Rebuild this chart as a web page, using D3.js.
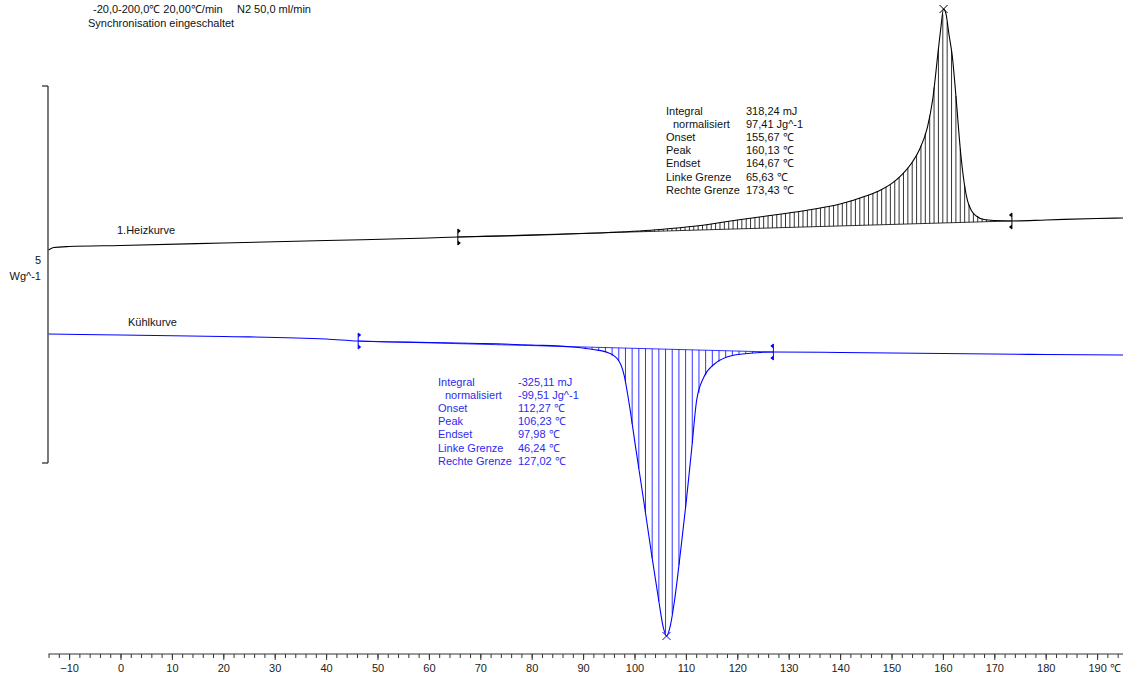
<!DOCTYPE html>
<html>
<head>
<meta charset="utf-8">
<script src="https://cdn.jsdelivr.net/npm/d3@7"></script>
<style>
  html, body { margin: 0; padding: 0; background: #fff; }
  svg { display: block; font-family: "Liberation Sans", Arial, sans-serif; }
</style>
</head>
<body>
<svg id="chart" width="1123" height="676"></svg>
<script>
// Heat flow (W/g, offset for display) versus temperature (°C)
const heatT = [-14, -13, -10, 0, 20, 40, 60, 65.63, 75, 85, 95, 105, 112, 120, 125, 130, 135, 140, 145, 148, 150, 152, 154, 155.5, 157, 158, 159, 159.6, 160.13, 160.6, 161.2, 161.8, 162.6, 163.4, 164.2, 164.8, 165.6, 166.5, 168, 170, 173.43, 180, 190, 195.3];
const heatW = [2.825, 2.858, 2.871, 2.885, 2.918, 2.951, 2.984, 2.997, 3.011, 3.031, 3.057, 3.097, 3.143, 3.223, 3.269, 3.316, 3.369, 3.435, 3.541, 3.625, 3.705, 3.820, 3.985, 4.165, 4.456, 4.814, 5.411, 5.769, 6.021, 5.955, 5.676, 5.411, 4.814, 4.151, 3.687, 3.475, 3.342, 3.276, 3.229, 3.216, 3.210, 3.223, 3.243, 3.249];

const coolT = [-14, 0, 20, 40, 46.24, 60, 70, 80, 88, 92, 95, 97, 98, 98.85, 100.3, 101.77, 103.3, 104.7, 105.6, 106.23, 106.9, 107.8, 109, 110.1, 111.1, 112.1, 113.5, 115.5, 118, 121, 127.02, 140, 160, 180, 195.3];
const coolW = [1.711, 1.698, 1.678, 1.645, 1.618, 1.598, 1.585, 1.565, 1.538, 1.505, 1.459, 1.350, 1.160, 0.836, 0.170, -0.491, -1.200, -1.817, -2.180, -2.294, -2.180, -1.817, -1.150, -0.491, 0.170, 0.836, 1.140, 1.310, 1.406, 1.446, 1.472, 1.466, 1.452, 1.439, 1.432];

// Integration limits and peak temperatures
const heatLimits = [65.63, 173.43];
const heatPeak = 160.13;
const coolLimits = [46.24, 127.02];
const coolPeak = 106.23;

// Evaluation tables
const heatLabels = ["Integral", "  normalisiert", "Onset", "Peak", "Endset", "Linke Grenze", "Rechte Grenze"];
const heatValues = ["318,24 mJ", "97,41 Jg^-1", "155,67 ℃", "160,13 ℃", "164,67 ℃", "65,63 ℃", "173,43 ℃"];
const coolLabels = ["Integral", "  normalisiert", "Onset", "Peak", "Endset", "Linke Grenze", "Rechte Grenze"];
const coolValues = ["-325,11 mJ", "-99,51 Jg^-1", "112,27 ℃", "106,23 ℃", "97,98 ℃", "46,24 ℃", "127,02 ℃"];

// Axis ticks
const majorTicks = d3.range(-10, 191, 10);
const minorTicks = d3.range(-14, 196, 2);
const headerLines = ["-20,0-200,0℃ 20,00℃/min", "Synchronisation eingeschaltet"];
const scaleBar = [0, 5];

const svg = d3.select("#chart");
const x = d3.scaleLinear().domain([0, 190]).range([120.5, 1097.1]);
const y = d3.scaleLinear().domain([0, 5]).range([463, 86]);
const xMin = -14, xMax = 195.3;

const BLUE = "#0000ff";
const BLUE_TEXT = "#2b2bf0";

// Header text
svg.append("text").attr("x", 93).attr("y", 13).attr("font-size", 11).attr("fill", "#111").text(headerLines[0]);
svg.append("text").attr("x", 237).attr("y", 13).attr("font-size", 11).attr("fill", "#111").text("N2 50,0 ml/min");
svg.append("text").attr("x", 88).attr("y", 27).attr("font-size", 11).attr("fill", "#111").text(headerLines[1]);

// Vertical scale bar
const sb = svg.append("g").attr("stroke", "#222").attr("stroke-width", 1.2).attr("fill", "none");
sb.append("line").attr("x1", 48).attr("x2", 48).attr("y1", y(scaleBar[1])).attr("y2", y(scaleBar[0]));
sb.append("line").attr("x1", 42).attr("x2", 48).attr("y1", y(scaleBar[1])).attr("y2", y(scaleBar[1]));
sb.append("line").attr("x1", 42).attr("x2", 48).attr("y1", y(scaleBar[0])).attr("y2", y(scaleBar[0]));
svg.append("text").attr("x", 41).attr("y", 264).attr("text-anchor", "end").attr("font-size", 11).attr("fill", "#111").text(scaleBar[1]);
svg.append("text").attr("x", 41).attr("y", 280).attr("text-anchor", "end").attr("font-size", 11).attr("fill", "#111").text("Wg^-1");

// Temperature axis
const axisY = 654;
const gx = svg.append("g").attr("transform", `translate(0,${axisY})`);
gx.append("line").attr("x1", x(xMin)).attr("x2", x(xMax)).attr("stroke", "#333").attr("stroke-width", 1);
const minorAxis = d3.axisBottom(x).tickValues(minorTicks).tickSize(4).tickFormat("");
const majorAxis = d3.axisBottom(x).tickValues(majorTicks).tickSize(6).tickPadding(4).tickFormat(d3.format("d"));
const gMinor = gx.append("g").call(minorAxis);
const gMajor = gx.append("g").call(majorAxis);
[gMinor, gMajor].forEach(g => {
  g.select(".domain").remove();
  g.selectAll(".tick line").attr("stroke", "#333");
});
gMajor.selectAll(".tick text").attr("font-size", 11).attr("fill", "#222").attr("font-family", "Liberation Sans, Arial, sans-serif");
gx.append("text").attr("x", x(190) + 13).attr("y", 18).attr("font-size", 11).attr("fill", "#222").text("℃");

// Curve helpers
function makeSeries(T, W) { return T.map((t, i) => ({ t, w: W[i] })); }
function valueAt(series, t) {
  const i = d3.bisector(d => d.t).left(series, t);
  if (i <= 0) return series[0].w;
  if (i >= series.length) return series[series.length - 1].w;
  const a = series[i - 1], b = series[i];
  return a.w + (b.w - a.w) * (t - a.t) / (b.t - a.t);
}
const line = d3.line().x(d => x(d.t)).y(d => y(d.w)).curve(d3.curveMonotoneX);

function drawRun(T, W, limits, peak, color, step) {
  const series = makeSeries(T, W);
  const g = svg.append("g");
  const w0 = valueAt(series, limits[0]), w1 = valueAt(series, limits[1]);
  const base = t => w0 + (w1 - w0) * (t - limits[0]) / (limits[1] - limits[0]);
  // hatching between curve and baseline
  const hatchT = d3.range(limits[0] + step, limits[1], step);
  g.selectAll("line.hatch").data(hatchT).join("line")
    .attr("class", "hatch")
    .attr("x1", d => x(d)).attr("x2", d => x(d))
    .attr("y1", d => y(base(d))).attr("y2", d => y(valueAt(series, d)))
    .attr("stroke", color).attr("stroke-width", 0.8);
  // baseline
  g.append("line").attr("x1", x(limits[0])).attr("x2", x(limits[1]))
    .attr("y1", y(w0)).attr("y2", y(w1)).attr("stroke", color).attr("stroke-width", 0.8);
  // curve
  g.append("path").datum(series).attr("d", line).attr("fill", "none")
    .attr("stroke", color).attr("stroke-width", 1.1);
  // limit markers
  limits.forEach((t, k) => {
    const px = x(t), py = y(valueAt(series, t));
    const dir = k === 0 ? 1 : -1;
    g.append("line").attr("x1", px).attr("x2", px).attr("y1", py - 8).attr("y2", py + 8)
      .attr("stroke", color).attr("stroke-width", 1);
    [-1, 1].forEach(s => {
      const yy = py + s * 6;
      g.append("path")
        .attr("d", `M${px},${yy - 2.5}L${px + dir * 3},${yy}L${px},${yy + 2.5}Z`)
        .attr("fill", color);
    });
  });
  // peak marker
  const pxp = x(peak), pyp = y(valueAt(series, peak));
  g.append("path").attr("d", `M${pxp - 4},${pyp - 4}L${pxp + 4},${pyp + 4}M${pxp - 4},${pyp + 4}L${pxp + 4},${pyp - 4}`)
    .attr("stroke", color).attr("stroke-width", 1);
}

drawRun(heatT, heatW, heatLimits, heatPeak, "#000", 0.85);
drawRun(coolT, coolW, coolLimits, coolPeak, BLUE, 1.3);

// Curve names
svg.append("text").attr("x", 117).attr("y", 234).attr("font-size", 11).attr("fill", "#111").text("1.Heizkurve");
svg.append("text").attr("x", 128).attr("y", 326).attr("font-size", 11).attr("fill", "#111").text("Kühlkurve");

// Evaluation tables
function table(labels, values, x0, x1, y0, color) {
  const g = svg.append("g").attr("font-size", 11).attr("fill", color);
  labels.forEach((l, i) => {
    g.append("text").attr("x", x0 + (l.startsWith("  ") ? 7 : 0)).attr("y", y0 + i * 13.1).text(l.trim());
    g.append("text").attr("x", x1).attr("y", y0 + i * 13.1).text(values[i]);
  });
}
table(heatLabels, heatValues, 666, 746, 115, "#111");
table(coolLabels, coolValues, 438, 518, 386, BLUE_TEXT);
</script>
</body>
</html>
